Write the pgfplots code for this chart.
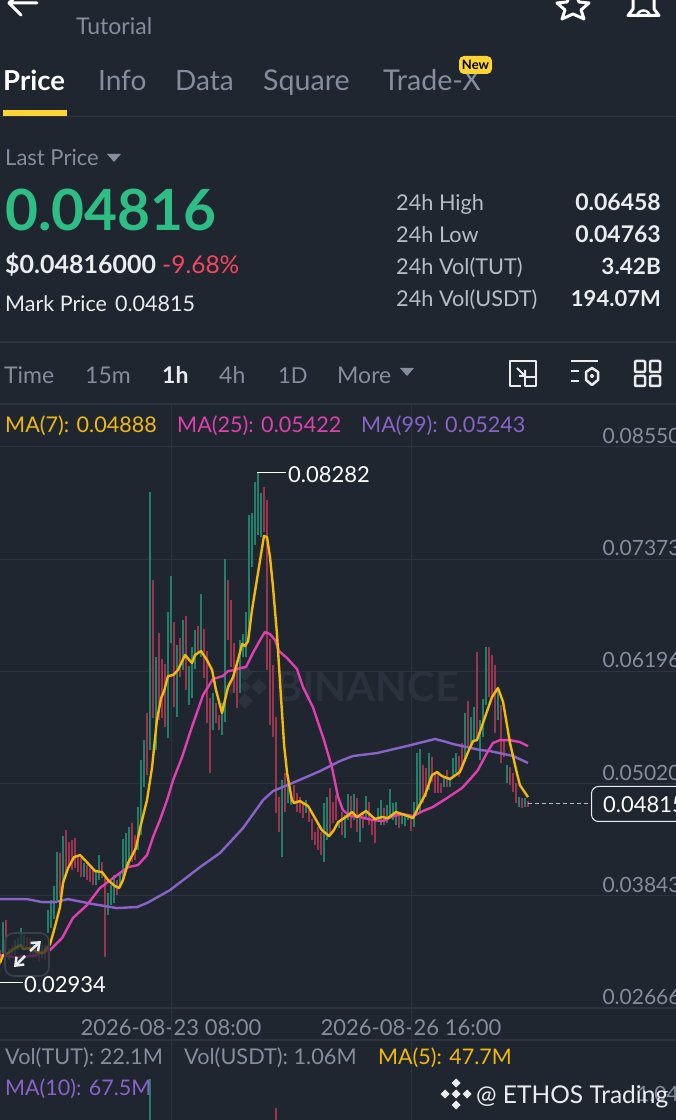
\documentclass[border=0pt]{standalone}
\usepackage{pgfplots}
\usepackage{pgfplotstable}
\usepackage{fontspec}
\setmainfont{Lato}
\pgfplotsset{compat=1.18}
\usetikzlibrary{arrows.meta}
\definecolor{bg}{HTML}{1F2630}
\definecolor{gridc}{HTML}{2D343F}
\definecolor{upc}{HTML}{22806A}
\definecolor{dnc}{HTML}{9A344F}
\definecolor{ma7}{HTML}{F0B90B}
\definecolor{ma25}{HTML}{E03FAE}
\definecolor{ma99}{HTML}{8A63C8}
\definecolor{txg}{HTML}{848E9C}
\definecolor{txw}{HTML}{EAECEF}
\definecolor{lgr}{HTML}{B7BDC6}
\definecolor{grn}{HTML}{2EBD85}
\definecolor{rd}{HTML}{F6465D}
\definecolor{yel}{HTML}{FCD535}
\definecolor{wm}{HTML}{2B323D}
\definecolor{boxc}{HTML}{3A414D}

\pgfplotstableread{
i high low
1 .03567 .03242
3 .03295 .03168
5 .03379 .03221
6 .03400 .03274
7 .03504 .03295
8 .03431 .03295
11 .03379 .03221
14 .03326 .03190
16 .03693 .03452
17 .03798 .03504
18 .03945 .03599
19 .04301 .03798
21 .04469 .03924
28 .04186 .04039
32 .04113 .03955
33 .04270 .04008
36 .03871 .03641
37 .03955 .03746
38 .04060 .03766
40 .04081 .03924
41 .04438 .04008
42 .04501 .04134
43 .04564 .04165
46 .04774 .04323
47 .05267 .04480
48 .05476 .04983
50 .08078 .05371
52 .06347 .05371
56 .06819 .05497
57 .07197 .06494
59 .06473 .05717
61 .06735 .06210
63 .06253 .05844
64 .06452 .05917
65 .06630 .06221
67 .07008 .06347
71 .05969 .05581
74 .05864 .05529
75 .07375 .05665
80 .06525 .05969
81 .06588 .06347
82 .06819 .06347
83 .07837 .06630
84 .07858 .07291
85 .08183 .07522
86 .08277 .07627
87 .08067 .07606
94 .05057 .04249
96 .05036 .04816
97 .04900 .04795
102 .04847 .04711
108 .04816 .04197
109 .04878 .04428
113 .04617 .04553
115 .04690 .04448
116 .04910 .04637
118 .04910 .04637
120 .04690 .04407
122 .04889 .04637
126 .04763 .04637
127 .04847 .04585
129 .04795 .04606
130 .04962 .04669
131 .04816 .04637
132 .04826 .04585
134 .04690 .04596
135 .04690 .04575
136 .04680 .04637
138 .04826 .04564
139 .05340 .04690
140 .05382 .04721
143 .05340 .04952
148 .05088 .04983
150 .05088 .04983
151 .05288 .05078
152 .05340 .05130
155 .05760 .05246
157 .05717 .05403
158 .05822 .05455
160 .05686 .05267
161 .05907 .05508
162 .06452 .05844
166 .06022 .05686
169 .05214 .05025
173 .04878 .04773
175 .04868 .04773
}\upcandles

\pgfplotstableread{
i high low
0 .03274 .03116
2 .03589 .03274
4 .03326 .03190
9 .03410 .03274
10 .03400 .03221
12 .03326 .03190
13 .03295 .03148
15 .03326 .03168
20 .04291 .03829
22 .04532 .04060
23 .04406 .04134
24 .04427 .04113
25 .04448 .04134
26 .04270 .04092
27 .04238 .04039
29 .04165 .04008
30 .04134 .03987
31 .04134 .03955
34 .04197 .04029
35 .04029 .03200
39 .04008 .03850
44 .04606 .04197
45 .04480 .04218
49 .05760 .05109
51 .07155 .05707
53 .06599 .05686
54 .06326 .05707
55 .06274 .05613
58 .06714 .05822
60 .06546 .06137
62 .06777 .06001
66 .06672 .06399
68 .06641 .06126
69 .06410 .05655
70 .05917 .05130
72 .05864 .05655
73 .05739 .05581
76 .07155 .06525
77 .06945 .06242
78 .06494 .05969
79 .06315 .05812
88 .08130 .07658
89 .07994 .06210
90 .06536 .05634
91 .06263 .05508
92 .05718 .04711
93 .04878 .04511
95 .05130 .04721
98 .05004 .04816
99 .04920 .04721
100 .04878 .04711
101 .04826 .04658
103 .04742 .04617
104 .04648 .04428
105 .04511 .04375
106 .04564 .04323
107 .04511 .04270
110 .04973 .04480
111 .04826 .04606
112 .04900 .04637
114 .04721 .04480
117 .04889 .04553
119 .04868 .04511
121 .04711 .04553
123 .04826 .04585
124 .04637 .04480
125 .04637 .04396
128 .04763 .04585
133 .04721 .04553
137 .04690 .04522
141 .05214 .04816
142 .05183 .04878
144 .05298 .05036
145 .05130 .04920
146 .05141 .04920
147 .05025 .04920
149 .05162 .04983
153 .05309 .05088
154 .05445 .05162
156 .05886 .05403
159 .06399 .05476
163 .06452 .05928
164 .06368 .05949
165 .06263 .05550
167 .05844 .05235
168 .05476 .05298
170 .05193 .05004
171 .05130 .04931
172 .05025 .04816
174 .04868 .04763
176 .04837 .04773
}\downcandles

\pgfplotstableread{
i p
0 .03137
1 .03221
2.7 .03242
5 .03295
7 .03326
7.7 .03284
10 .03295
12.3 .03253
14.3 .03242
16.7 .03336
18.3 .03515
20 .03725
21 .03976
22.7 .04134
24.7 .04249
26.7 .04270
28.3 .04218
31.7 .04102
34 .04092
36 .04008
38.3 .03945
39.7 .03924
41 .04008
42.7 .04186
45.3 .04343
46.7 .04553
49 .04847
50.7 .05193
52.3 .05686
53.7 .05917
54.7 .05991
56 .06148
57.7 .06158
59.3 .06210
61.7 .06368
64 .06284
65 .06368
67 .06410
69 .06315
70.7 .06210
72 .06001
74 .05760
76 .06032
77.7 .06137
79.3 .06315
80.7 .06483
81.7 .06462
82.7 .06515
84 .06840
86 .07228
88 .07617
89 .07606
90 .07396
91 .07081
92.3 .06599
93.3 .06106
94.7 .05424
95.7 .05130
97.3 .04847
98 .04816
100 .04837
102.7 .04784
105 .04658
107.3 .04532
109.7 .04469
111.3 .04532
112.7 .04616
115.7 .04679
117.3 .04721
119 .04669
122 .04732
125 .04648
127.3 .04669
129.3 .04658
132 .04721
134 .04700
136 .04679
137.7 .04658
139.3 .04763
141.7 .04900
144 .05109
145.7 .05141
147.3 .05099
150 .05067
153.3 .05141
156 .05350
157.7 .05466
159 .05476
161 .05655
164 .05928
166 .06022
167.7 .05875
170 .05445
172.3 .05130
173.3 .05004
176 .04878
}\maseven

\pgfplotstableread{
i p
0 .03221
4.3 .03200
11 .03211
16.7 .03274
20.7 .03400
24.3 .03610
29 .03746
33.3 .03924
37.7 .04029
42.7 .04144
46 .04165
49 .04270
51 .04459
53.3 .04637
55.7 .04847
57.7 .05057
60.7 .05298
63.3 .05550
65.7 .05770
67.7 .05949
71 .06116
74.3 .06148
76 .06200
78.3 .06210
80 .06231
82 .06242
84.3 .06389
86.7 .06525
88.3 .06609
90 .06588
91.7 .06525
93 .06410
95.7 .06336
99 .06221
101 .06032
104.3 .05822
108 .05476
110.7 .05183
112.7 .04878
114.3 .04742
116.7 .04679
120 .04669
124.3 .04637
127.7 .04627
131 .04679
134.3 .04700
137.7 .04679
141 .04732
144.3 .04774
149 .04868
154 .04973
157.3 .05088
159.3 .05162
162.3 .05340
164.3 .05445
166.7 .05476
170 .05476
173.3 .05455
176 .05413
}\matwentyfive

\pgfplotstableread{
i p
0 .03808
9 .03808
14 .03777
18.3 .03777
22.7 .03808
31 .03756
39 .03714
45.7 .03725
49 .03767
56.7 .03903
66.7 .04144
73.3 .04291
81 .04553
87.7 .04847
91 .04941
99 .05046
106.7 .05151
113.3 .05256
117.7 .05309
125.7 .05340
135.7 .05414
145 .05487
147.7 .05466
151 .05435
160 .05372
163.3 .05361
171 .05309
176 .05236
}\manintynine

% #1 x, #2 baseline y, #3 colour, #4 size, #5 text
\newcommand{\T}[5]{\node[anchor=base west,inner sep=0pt,text=#3] at (#1,{#2+1.5}) {\fontsize{#4}{#4}\selectfont #5};}
\newcommand{\R}[5]{\node[anchor=base east,inner sep=0pt,text=#3] at (#1,{#2+1.5}) {\fontsize{#4}{#4}\selectfont #5};}
\newcommand{\diam}[4]{% x y half-size colour
  \fill[#4] ({#1-#3},#2) -- (#1,{#2-#3}) -- ({#1+#3},#2) -- (#1,{#2+#3}) -- cycle;}

\begin{document}
\begin{tikzpicture}
\path[use as bounding box,clip] (0,0) rectangle (676pt,1120pt);
\fill[bg] (0,0) rectangle (676pt,1120pt);

\begin{scope}[yshift=1120pt,x=1pt,y=-1pt]
% --- header
\draw[white,line width=3pt,line cap=round,line join=round] (37,3) -- (10,3) (21,-8) -- (9,3) -- (21,15);
\draw[white,line width=3pt,line join=round] (573,-12) -- (579,2) -- (589,3) -- (581,10) -- (584,19) -- (573,14) -- (562,19) -- (565,10) -- (557,3) -- (567,2) -- cycle;
\draw[white,line width=3pt,line join=round] (628,15.5) -- (659,15.5) -- (654,9) -- (654,-5) -- (633,-5) -- (633,9) -- cycle;
\draw[white,line width=2.5pt] (637,17) arc[start angle=180,end angle=360,radius=6.5];
\T{76}{33.5}{txg}{23pt}{Tutorial}
\T{3}{89}{white}{27.5pt}{\bfseries Price}
\T{98}{89}{txg}{28pt}{Info}
\T{175}{89}{txg}{28pt}{Data}
\T{263}{89}{txg}{28.6pt}{Square}
\T{383}{89}{txg}{28.6pt}{Trade-X}
\fill[yel,rounded corners=5pt] (459,56) rectangle (492,74);
\node[inner sep=0pt,text=black] at (475.5,65) {\fontsize{13}{13}\selectfont\bfseries New};
\fill[yel] (3,110) rectangle (67,116);
\draw[gridc,line width=1pt] (0,117) -- (676,117);
% --- price block
\T{5}{164}{txg}{22pt}{Last Price}
\fill[txg] (107,154) -- (121,154) -- (114,162) -- cycle;
\T{5}{229}{grn}{56.8pt}{\bfseries 0.04816}
\T{5}{272}{txw}{25pt}{\bfseries \$0.04816000}
\T{162}{272}{rd}{24.5pt}{-9.68\%}
\T{5}{310}{txw}{21.5pt}{Mark Price}
\T{115}{310}{txw}{21.5pt}{0.04815}
\T{396}{209}{lgr}{21.7pt}{24h High}
\T{396}{241}{lgr}{21.7pt}{24h Low}
\T{396}{273}{lgr}{21.7pt}{24h Vol(TUT)}
\T{396}{305}{lgr}{21.7pt}{24h Vol(USDT)}
\R{661}{209}{txw}{23pt}{\bfseries 0.06458}
\R{661}{241}{txw}{23pt}{\bfseries 0.04763}
\R{661}{273}{txw}{22.5pt}{\bfseries 3.42B}
\R{661}{305}{txw}{22pt}{\bfseries 194.07M}
\draw[gridc,line width=1.5pt] (0,342) -- (676,342);
% --- interval row
\T{4}{382}{txg}{23pt}{Time}
\T{85}{382}{txg}{23pt}{15m}
\T{162}{382}{txw}{23pt}{\bfseries 1h}
\T{219}{382}{txg}{23pt}{4h}
\T{278}{382}{txg}{22pt}{1D}
\T{337}{382}{txg}{23pt}{More}
\fill[txg] (400,368) -- (414,368) -- (407,376) -- cycle;
% icons
\begin{scope}[draw=txw,line width=2.5pt,line join=round]
\draw (536,386) -- (536,361) -- (510,361) -- (510,386) -- (521,386);
\draw (525,377) rectangle (536,386);
\draw[line width=2pt] (517,368) -- (525,376) (525,370) -- (525,376) -- (519,376);
\draw (571,361) -- (598,361) (571,371) -- (579,371) (571,381) -- (579,381);
\draw (592,368) -- (598,372) -- (598,380) -- (592,385) -- (586,380) -- (586,372) -- cycle;
\fill[txw] (592,376) circle (2pt);
\draw[rounded corners=1pt] (635,361) rectangle (645,372) (650,361) rectangle (660,372) (635,376) rectangle (645,386) (650,376) rectangle (660,386);
\end{scope}
% --- panels
\draw[gridc,line width=1.5pt] (0,404) -- (676,404);
\draw[gridc,line width=1pt] (171,404) -- (171,447) (411,404) -- (411,447);
\T{5}{431}{ma7}{21.6pt}{MA(7): 0.04888}
\T{177}{431}{ma25}{21.6pt}{MA(25): 0.05422}
\T{361}{431}{ma99}{21.6pt}{MA(99): 0.05243}
% --- watermark
\diam{245}{673}{8}{wm}\diam{245}{701}{8}{wm}\diam{231}{687}{8}{wm}\diam{259}{687}{8}{wm}\diam{245}{687}{6}{wm}
\T{275}{700}{wm}{41.5pt}{\bfseries BINANCE}
\end{scope}

% --- main chart
\begin{axis}[
  at={(0pt,112pt)},anchor=south west,scale only axis,
  width=676pt,height=561pt,
  xmin=0,xmax=225.333,ymin=0.02666,ymax=0.0855,
  axis line style={draw=none},tick style={draw=none},
  grid=major,grid style={gridc,line width=1pt},
  xtick={57,137},
  xticklabels={2026-08-23 08:00,2026-08-26 16:00},
  ytick={0.02666,0.03843,0.0502,0.06196,0.07373,0.0855},
  scaled y ticks=false,
  yticklabel pos=right,
  yticklabel style={/pgf/number format/fixed,/pgf/number format/fixed zerofill,/pgf/number format/precision=5,/pgf/number format/assume math mode=true,anchor=west,xshift=-77pt,yshift=11pt,text=txg,font=\fontsize{21}{21}\selectfont},
  xticklabel style={text=txg,yshift=-8pt,font=\fontsize{22}{22}\selectfont},
]
\addplot[draw=none,mark=none,error bars/.cd,y dir=plus,y explicit,error mark=none,
  error bar style={line width=1.7pt,color=upc}]
  table[x=i,y=low,y error expr=\thisrow{high}-\thisrow{low}]{\upcandles};
\addplot[draw=none,mark=none,error bars/.cd,y dir=plus,y explicit,error mark=none,
  error bar style={line width=1.7pt,color=dnc}]
  table[x=i,y=low,y error expr=\thisrow{high}-\thisrow{low}]{\downcandles};
\addplot[ma99,line width=2.4pt,line join=round] table[x=i,y=p]{\manintynine};
\addplot[ma25,line width=2.4pt,line join=round] table[x=i,y=p]{\matwentyfive};
\addplot[ma7,line width=2.4pt,line join=round] table[x=i,y=p]{\maseven};
\end{axis}

% --- volume panel
\begin{axis}[
  at={(0pt,0pt)},anchor=south west,scale only axis,
  width=676pt,height=80pt,hide axis,
  xmin=0,xmax=225.333,ymin=0.514,ymax=1.541,
]
\addplot[ycomb,upc,line width=1.7pt] coordinates {(50,1.04)};
\addplot[ycomb,dnc,line width=1.7pt] coordinates {(92,0.668)};
\end{axis}

\begin{scope}[yshift=1120pt,x=1pt,y=-1pt]
% box overlay with arrows
\fill[bg,fill opacity=.72,rounded corners=9pt] (5,933) rectangle (49,976);
\draw[boxc,line width=1.6pt,rounded corners=9pt] (5,933) rectangle (49,976);
\draw[txw,line width=2.5pt,-{Straight Barb[length=7pt,width=11pt]}] (30,951) -- (41,941);
\draw[txw,line width=2.5pt,-{Straight Barb[length=7pt,width=11pt]}] (25,956) -- (14,967);
% chart annotations
\draw[white,line width=1pt] (257,473) -- (286,473);
\T{288}{481}{white}{22pt}{0.08282}
\draw[white,line width=1pt] (0,983) -- (23,983);
\T{24}{991}{white}{22pt}{0.02934}
\draw[lgr,line width=1pt,dash pattern=on 4pt off 3pt] (528,804) -- (590,804);
\draw[txw,line width=1pt,fill=bg,rounded corners=7pt] (591.5,786.5) rectangle (705,821.5);
\T{603}{811.5}{white}{22pt}{0.04815}
% vol panel
\draw[gridc,line width=1.5pt] (0,1040) -- (676,1040);
\draw[gridc,line width=1pt] (171,1008) -- (171,1120) (411,1008) -- (411,1120);
\T{5}{1063}{txg}{21.7pt}{Vol(TUT): 22.1M}
\T{184}{1063}{txg}{21.7pt}{Vol(USDT): 1.06M}
\T{378}{1063}{ma7}{21.5pt}{MA(5): 47.7M}
\T{5}{1094}{ma99}{21.5pt}{MA(10): 67.5M}
\T{637}{1100}{txg}{21pt}{1.04B}
% ETHOS watermark
\foreach \a/\b in {456/1083,456/1105,445/1094,467/1094,456/1094}{\diam{\a}{\b}{4.5}{txw}}
\T{476}{1102}{txw}{24.5pt}{@ ETHOS Trading}
\end{scope}
\end{tikzpicture}
\end{document}
